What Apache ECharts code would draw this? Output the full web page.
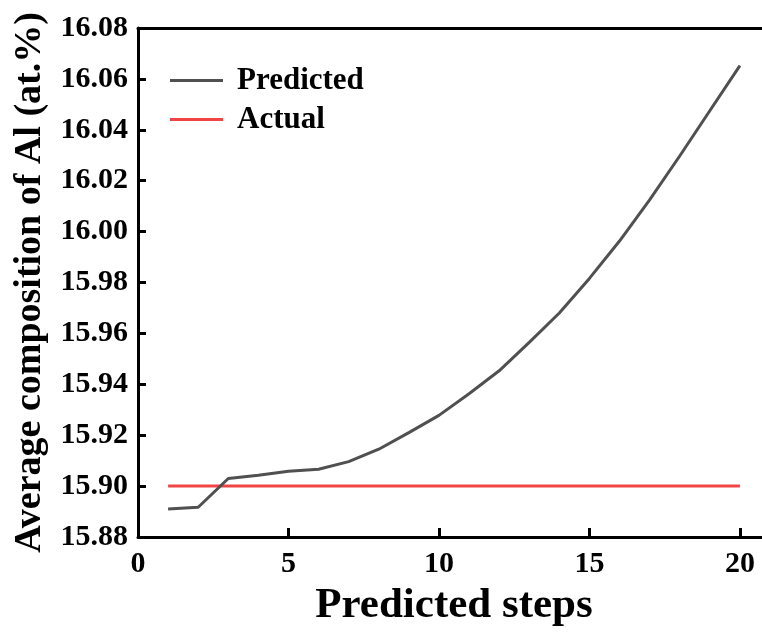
<!DOCTYPE html>
<html>
<head>
<meta charset="utf-8">
<script src="https://cdn.jsdelivr.net/npm/echarts@6/dist/echarts.min.js"></script>
<style>html,body{margin:0;padding:0;background:#fff;overflow:hidden}#c{width:762px;height:633px}</style>
</head>
<body>
<div id="c"></div>
<script>
const steps = [1,2,3,4,5,6,7,8,9,10,11,12,13,14,15,16,17,18,19,20];
const predicted = [15.891,15.8917,15.903,15.9043,15.9058,15.9066,15.9096,15.9145,15.921,15.9278,15.9363,15.9453,15.9565,15.968,15.9816,15.9963,16.0125,16.0297,16.0475,16.0652];
const actualValue = 15.90;
const actualSteps = [1,20];
const xTicks = [0,5,10,15,20];
const yTickLabels = ['15.88','15.90','15.92','15.94','15.96','15.98','16.00','16.02','16.04','16.06','16.08'];

const font = 'Liberation Serif, Times New Roman, serif';
const chart = echarts.init(document.getElementById('c'));
chart.setOption({
  backgroundColor:'#fff',
  animation:false,
  grid:{left:138, top:28, width:632, height:509, outerBoundsMode:'none', containLabel:false, show:false},
  legend:{
    orient:'vertical', left:170, top:65, padding:0, itemWidth:53, itemHeight:3, itemGap:8,
    textStyle:{fontFamily:font, fontWeight:'bold', fontSize:31, color:'#000', lineHeight:30, padding:[0,0,0,9]},
    data:[{name:'Predicted', icon:'rect', itemStyle:{color:'#505050'}},{name:'Actual', icon:'rect', itemStyle:{color:'#f24444'}}]
  },
  xAxis:[{
    type:'value', min:0, max:21, interval:5, position:'bottom',
    name:'Predicted steps', nameLocation:'middle', nameGap:47,
    nameTextStyle:{fontFamily:font, fontWeight:'bold', fontSize:43, color:'#000'},
    axisLine:{show:true, lineStyle:{color:'#000', width:3}},
    axisTick:{show:true, inside:true, length:9, lineStyle:{color:'#000', width:3},
      customValues:xTicks},
    axisLabel:{fontFamily:font, fontWeight:'bold', fontSize:30, color:'#000', margin:12,
      customValues:xTicks, formatter:v=>String(v)},
    splitLine:{show:false}
  },{
    type:'value', min:0, max:21, position:'top',
    axisLine:{show:true, lineStyle:{color:'#000', width:3}},
    axisTick:{show:false}, axisLabel:{show:false}, splitLine:{show:false}
  }],
  yAxis:{
    type:'value', min:15.88, max:16.08, interval:0.02,
    name:'Average composition of Al (at.%)', nameLocation:'middle', nameGap:86,
    nameTextStyle:{fontFamily:font, fontWeight:'bold', fontSize:38, color:'#000'},
    axisLine:{show:true, lineStyle:{color:'#000', width:3}},
    axisTick:{show:true, inside:true, length:8, lineStyle:{color:'#000', width:3}},
    axisLabel:{fontFamily:font, fontWeight:'bold', fontSize:30, color:'#000', margin:10,
      formatter:v=>{const s=v.toFixed(2); return yTickLabels.includes(s)?s:'';}},
    splitLine:{show:false}
  },
  series:[
    {name:'Predicted', type:'line', xAxisIndex:0, data:steps.map((s,i)=>[s,predicted[i]]), symbol:'none',
     lineStyle:{color:'#505050', width:3}, itemStyle:{color:'#505050'}, z:3},
    {name:'Actual', type:'line', xAxisIndex:0, data:actualSteps.map(s=>[s,actualValue]), symbol:'none',
     lineStyle:{color:'#f24444', width:3}, itemStyle:{color:'#f24444'}, z:2}
  ]
});
</script>
</body>
</html>
